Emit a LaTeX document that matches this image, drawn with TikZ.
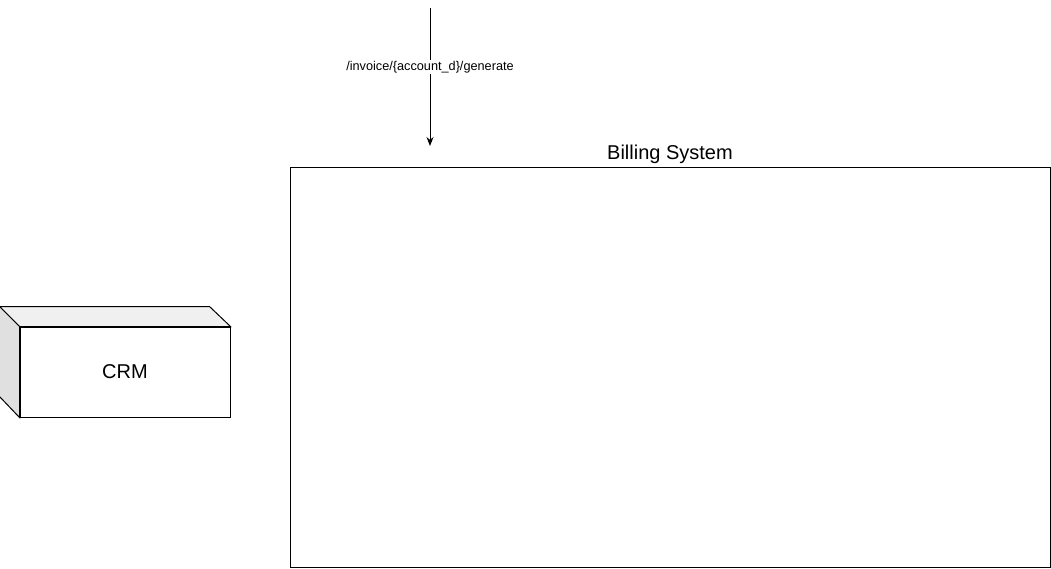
\documentclass[tikz,border=0pt]{standalone}
\usepackage{fontspec}
\setmainfont{Liberation Sans}
\usetikzlibrary{positioning,arrows.meta}

\begin{document}
\begin{tikzpicture}[
  x=1pt, y=-1pt,
  line width=1pt,
  system/.style={rectangle, draw, minimum width=760pt, minimum height=400pt, inner sep=0pt},
  server/.style={rectangle, draw, fill=white, minimum width=210pt, minimum height=90pt, inner sep=0pt, font=\fontsize{20}{22}\selectfont},
  title/.style={font=\fontsize{20}{22}\selectfont, inner sep=2pt},
  call/.style={-{Stealth[length=9pt, width=7pt]}},
  calllabel/.style={fill=white, inner sep=1pt, font=\fontsize{12.7}{14}\selectfont}
]
\useasboundingbox (0,0) rectangle (1051,568);

% Billing System container
\node[system] (billing) at (670,367) {};
\node[title, above=0pt of billing.north] (billingTitle) {Billing System};

% CRM box (front face plus shaded sides)
\node[server] (crm) at (125,372) {CRM};
\filldraw[fill=black!6] (crm.north west) -- ++(-20,-20) -- ++(210,0) -- (crm.north east) -- cycle;
\filldraw[fill=black!12] (crm.north west) -- ++(-20,-20) -- ++(0,90) -- (crm.south west) -- cycle;

% incoming request
\coordinate (apiIn) at (430,8);
\coordinate (apiOut) at (430,146);
\draw[call] (apiIn) -- (apiOut) node[calllabel, pos=0.43] (endpoint) {/invoice/\{account\_d\}/generate};

\end{tikzpicture}
\end{document}
